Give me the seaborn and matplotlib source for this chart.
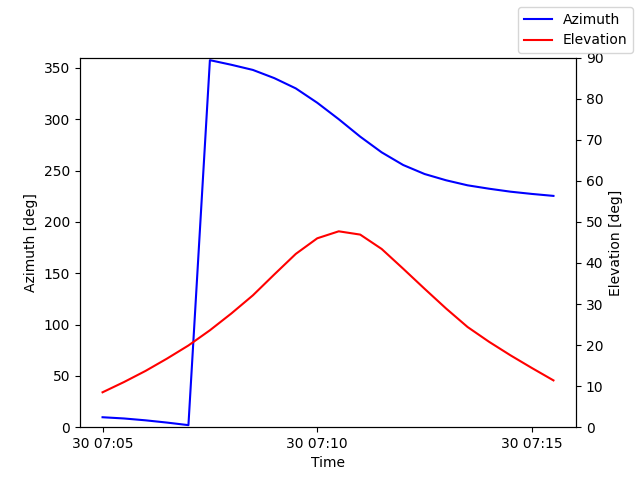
import pandas as pd
import seaborn as sns
import matplotlib
matplotlib.use('Agg')
import matplotlib.pyplot as plt

# pass samples, every 30 s
times = ['07:05:00', '07:05:30', '07:06:00', '07:06:30', '07:07:00', '07:07:30',
         '07:08:00', '07:08:30', '07:09:00', '07:09:30', '07:10:00', '07:10:30',
         '07:11:00', '07:11:30', '07:12:00', '07:12:30', '07:13:00', '07:13:30',
         '07:14:00', '07:14:30', '07:15:00', '07:15:30']
azimuth = [9.7, 8.5, 6.7, 4.5, 2.0, 357.5, 353.0, 348.0, 340.0, 330.0, 316.0, 300.0,
           283.0, 267.7, 255.4, 246.6, 240.5, 235.6, 232.3, 229.4, 227.2, 225.3]
elevation = [8.5, 11.0, 13.7, 16.7, 19.9, 23.6, 27.7, 32.1, 37.2, 42.2, 46.0, 47.7,
             46.9, 43.4, 38.6, 33.7, 28.9, 24.4, 20.8, 17.5, 14.4, 11.4]

df = pd.DataFrame({'Time': pd.to_datetime(['2023-06-30 ' + t for t in times]),
                   'Azimuth': azimuth, 'Elevation': elevation})

fig, ax = plt.subplots(figsize=(6.4, 4.8), dpi=100)
ax2 = ax.twinx()

sns.lineplot(data=df, x='Time', y='Azimuth', color='blue', label='Azimuth', legend=False, ax=ax)
sns.lineplot(data=df, x='Time', y='Elevation', color='red', label='Elevation', legend=False, ax=ax2)

ax.set_ylim(0, 360)
ax2.set_ylim(0, 90)
ax.set_xlabel('Time')
ax.set_ylabel('Azimuth [deg]')
ax2.set_ylabel('Elevation [deg]')

fig.legend(loc='upper right')
plt.savefig('out.png')
